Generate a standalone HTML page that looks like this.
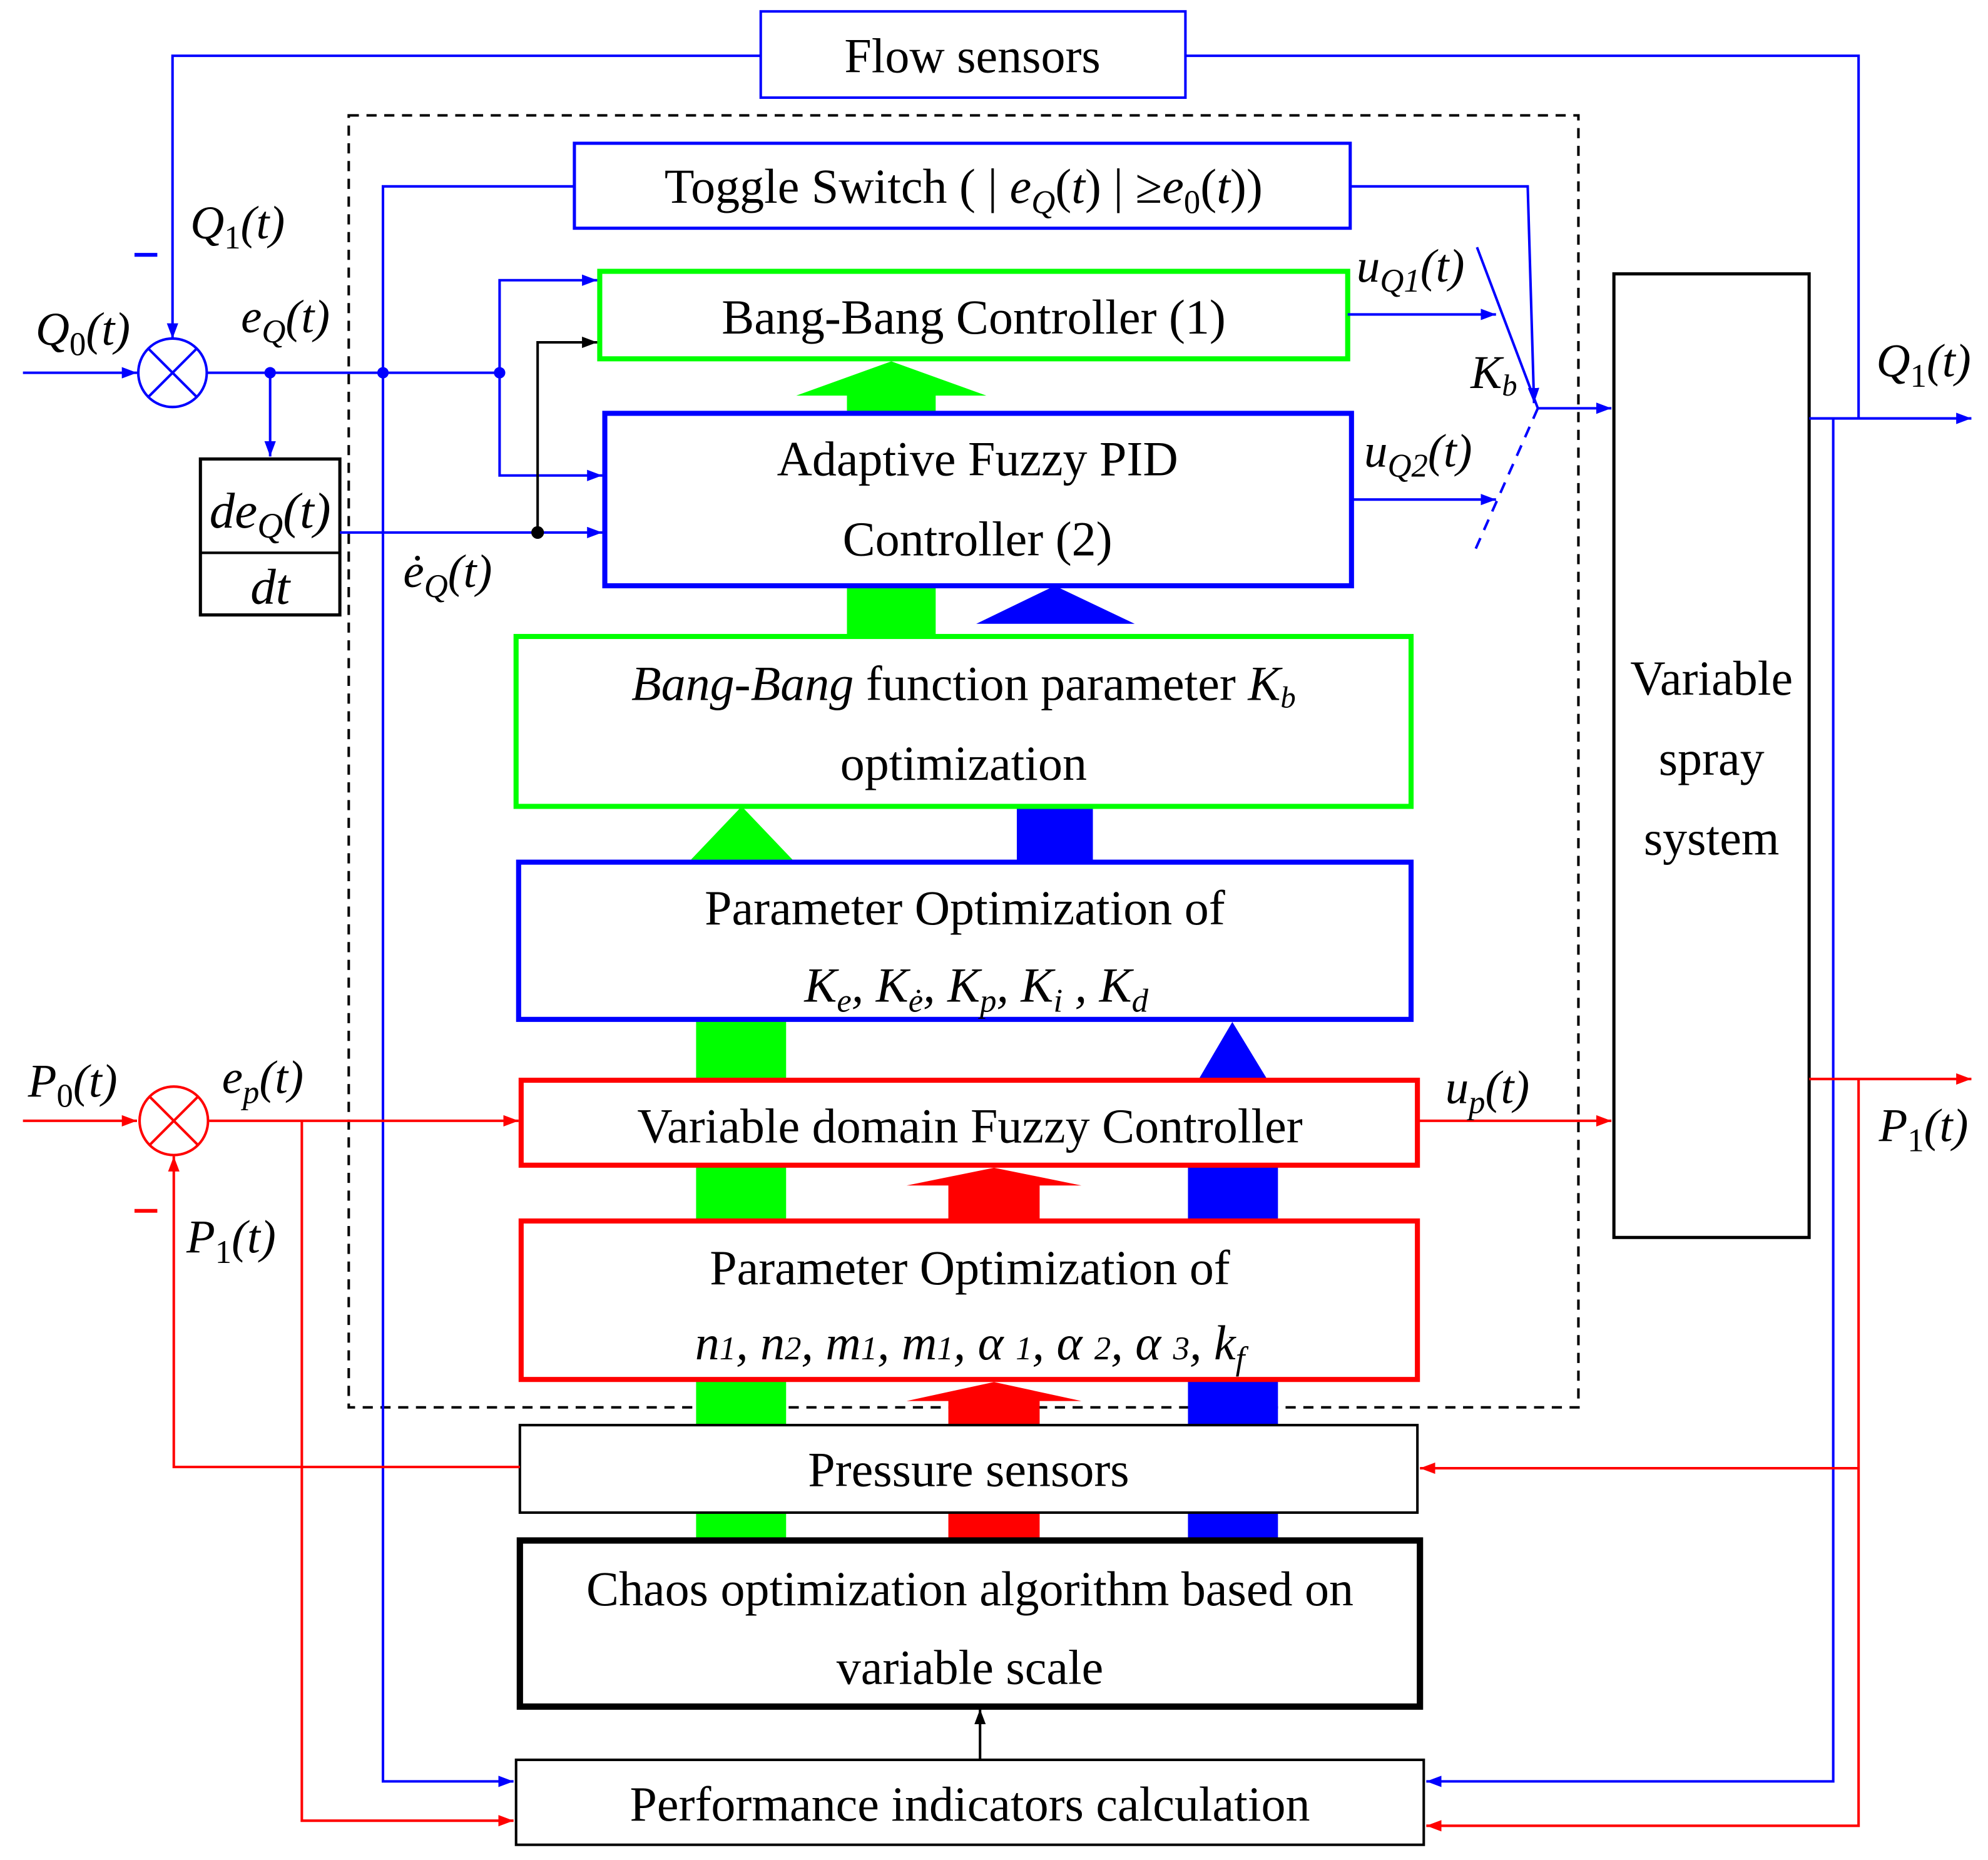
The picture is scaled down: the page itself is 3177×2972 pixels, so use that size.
<!DOCTYPE html>
<html><head><meta charset="utf-8"><style>html,body{margin:0;padding:0;background:#fff}svg{display:block}</style></head>
<body>
<svg width="3177" height="2972" viewBox="0 0 1568 1467" xmlns="http://www.w3.org/2000/svg" font-family="Liberation Serif, serif" font-size="38.5">
<defs>
<marker id="ab" markerWidth="12" markerHeight="9" refX="12" refY="4.5" orient="auto" markerUnits="userSpaceOnUse" viewBox="0 0 12 9"><path d="M0,0L12,4.5L0,9z" fill="#00f"/></marker>
<marker id="ar" markerWidth="12" markerHeight="9" refX="12" refY="4.5" orient="auto" markerUnits="userSpaceOnUse" viewBox="0 0 12 9"><path d="M0,0L12,4.5L0,9z" fill="#f00"/></marker>
<marker id="ak" markerWidth="12" markerHeight="9" refX="12" refY="4.5" orient="auto" markerUnits="userSpaceOnUse" viewBox="0 0 12 9"><path d="M0,0L12,4.5L0,9z" fill="#000"/></marker>
</defs>
<rect x="275" y="91" width="970" height="1019" fill="none" stroke="#000" stroke-width="2" stroke-dasharray="8,6"/>
<g stroke="none">
<rect x="668" y="310" width="70" height="16" fill="#0f0"/><polygon points="628,312 778,312 703,285" fill="#0f0"/>
<rect x="668" y="462" width="70" height="40" fill="#0f0"/>
<polygon points="770,492 895,492 832,462" fill="#00f"/>
<polygon points="545,678 625,678 585,636" fill="#0f0"/>
<rect x="802" y="636" width="60" height="44" fill="#00f"/>
<rect x="549" y="804" width="71" height="48" fill="#0f0"/>
<polygon points="945,852 1000,852 972,806" fill="#00f"/>
<rect x="549" y="919" width="71" height="44" fill="#0f0"/>
<rect x="748" y="933" width="72" height="30" fill="#f00"/><polygon points="715,935 853,935 784,921" fill="#f00"/>
<rect x="937" y="919" width="71" height="44" fill="#00f"/>
<rect x="549" y="1088" width="71" height="36" fill="#0f0"/>
<rect x="748" y="1103" width="72" height="21" fill="#f00"/><polygon points="715,1105 853,1105 784,1090" fill="#f00"/>
<rect x="937" y="1088" width="71" height="36" fill="#00f"/>
<rect x="549" y="1193" width="71" height="22" fill="#0f0"/>
<rect x="748" y="1193" width="72" height="22" fill="#f00"/>
<rect x="937" y="1193" width="71" height="22" fill="#00f"/>
</g>
<rect x="600" y="9" width="335" height="68" fill="#fff" stroke="#00f" stroke-width="2"/>
<rect x="453" y="113" width="612" height="67" fill="#fff" stroke="#00f" stroke-width="2.5"/>
<rect x="473" y="214" width="590" height="69" fill="#fff" stroke="#0f0" stroke-width="4"/>
<rect x="477" y="326" width="589" height="136" fill="#fff" stroke="#00f" stroke-width="4"/>
<rect x="407" y="502" width="706" height="134" fill="#fff" stroke="#0f0" stroke-width="4"/>
<rect x="409" y="680" width="704" height="124" fill="#fff" stroke="#00f" stroke-width="4"/>
<rect x="411" y="852" width="707" height="67" fill="#fff" stroke="#f00" stroke-width="4"/>
<rect x="411" y="963" width="707" height="125" fill="#fff" stroke="#f00" stroke-width="4"/>
<rect x="410" y="1124" width="708" height="69" fill="#fff" stroke="#000" stroke-width="2"/>
<rect x="410" y="1215" width="710" height="131" fill="#fff" stroke="#000" stroke-width="5"/>
<rect x="407" y="1388" width="716" height="67" fill="#fff" stroke="#000" stroke-width="2"/>
<rect x="1273" y="216" width="154" height="760" fill="#fff" stroke="#000" stroke-width="2.5"/>
<rect x="158" y="362" width="110" height="123" fill="#fff" stroke="#000" stroke-width="2.5"/>
<line x1="158" y1="436" x2="268" y2="436" stroke="#000" stroke-width="2"/>
<g fill="none" stroke="#00f" stroke-width="2">
<polyline points="600,44 136,44 136,267" marker-end="url(#ab)"/>
<polyline points="935,44 1466,44 1466,330"/>
<polyline points="453,147 302,147 302,1405 405,1405" marker-end="url(#ab)"/>
<polyline points="1065,147 1205,147 1210,318" marker-end="url(#ab)"/>
<line x1="18" y1="294" x2="108" y2="294" marker-end="url(#ab)"/>
<line x1="163" y1="294" x2="394" y2="294"/>
<line x1="213" y1="294" x2="213" y2="360" marker-end="url(#ab)"/>
<polyline points="394,294 394,221 471,221" marker-end="url(#ab)"/>
<polyline points="394,294 394,375 475,375" marker-end="url(#ab)"/>
<line x1="268" y1="420" x2="475" y2="420" marker-end="url(#ab)"/>
<line x1="1063" y1="248" x2="1180" y2="248" marker-end="url(#ab)"/>
<line x1="1066" y1="394" x2="1180" y2="394" marker-end="url(#ab)"/>
<line x1="1165" y1="195" x2="1213" y2="322"/>
<line x1="1213" y1="322" x2="1163" y2="435" stroke-dasharray="9,7"/>
<line x1="1213" y1="322" x2="1271" y2="322" marker-end="url(#ab)"/>
<line x1="1427" y1="330" x2="1555" y2="330" marker-end="url(#ab)"/>
<polyline points="1446,330 1446,1405 1125,1405" marker-end="url(#ab)"/>
<circle cx="136" cy="294" r="27"/>
<line x1="117" y1="275" x2="155" y2="313"/><line x1="155" y1="275" x2="117" y2="313"/>
</g>
<polyline points="424,420 424,270 471,270" fill="none" stroke="#000" stroke-width="2" marker-end="url(#ak)"/>
<g fill="#00f"><circle cx="213" cy="294" r="4.5"/><circle cx="302" cy="294" r="4.5"/><circle cx="394" cy="294" r="4.5"/></g>
<circle cx="424" cy="420" r="5" fill="#000"/>
<g fill="none" stroke="#f00" stroke-width="2">
<line x1="18" y1="884" x2="108" y2="884" marker-end="url(#ar)"/>
<line x1="165" y1="884" x2="409" y2="884" marker-end="url(#ar)"/>
<polyline points="238,884 238,1436 405,1436" marker-end="url(#ar)"/>
<polyline points="410,1157 137,1157 137,912" marker-end="url(#ar)"/>
<line x1="1118" y1="884" x2="1271" y2="884" marker-end="url(#ar)"/>
<line x1="1427" y1="851" x2="1555" y2="851" marker-end="url(#ar)"/>
<polyline points="1466,851 1466,1440 1125,1440" marker-end="url(#ar)"/>
<line x1="1466" y1="1158" x2="1120" y2="1158" marker-end="url(#ar)"/>
<circle cx="137" cy="884" r="27"/>
<line x1="118" y1="865" x2="156" y2="903"/><line x1="156" y1="865" x2="118" y2="903"/>
</g>
<line x1="773" y1="1388" x2="773" y2="1348" stroke="#000" stroke-width="2" marker-end="url(#ak)"/>
<g text-anchor="middle">
<text x="767" y="57">Flow sensors</text>
<text x="760" y="160">Toggle Switch ( | <tspan font-style="italic">e</tspan><tspan font-size="26" font-style="italic" dy="8">Q</tspan><tspan dy="-8">(</tspan><tspan font-style="italic">t</tspan>) | ≥<tspan font-style="italic">e</tspan><tspan font-size="26" dy="8">0</tspan><tspan dy="-8">(</tspan><tspan font-style="italic">t</tspan>))</text>
<text x="768" y="263">Bang-Bang Controller (1)</text>
<text x="771" y="375">Adaptive Fuzzy PID</text>
<text x="771" y="438">Controller (2)</text>
<text x="760" y="552"><tspan font-style="italic">Bang-Bang</tspan> function parameter <tspan font-style="italic">K</tspan><tspan font-size="24" font-style="italic" dy="6">b</tspan></text>
<text x="760" y="615">optimization</text>
<text x="761" y="729">Parameter Optimization of</text>
<text x="770" y="790" font-style="italic">K<tspan font-size="26" dy="8">e</tspan><tspan dy="-8">,  K</tspan><tspan font-size="26" dy="8">ė</tspan><tspan dy="-8">,  K</tspan><tspan font-size="26" dy="8">p</tspan><tspan dy="-8">,  K</tspan><tspan font-size="26" dy="8">i</tspan><tspan dy="-8"> ,  K</tspan><tspan font-size="26" dy="8">d</tspan></text>
<text x="765" y="901">Variable domain Fuzzy Controller</text>
<text x="765" y="1013">Parameter Optimization of</text>
<text x="765" y="1072" font-style="italic">n<tspan font-size="26">1</tspan>, n<tspan font-size="26">2</tspan>, m<tspan font-size="26">1</tspan>, m<tspan font-size="26">1</tspan>,   α <tspan font-size="26">1</tspan>,   α <tspan font-size="26">2</tspan>,   α <tspan font-size="26">3</tspan>,  k<tspan font-size="26" dy="8">f</tspan></text>
<text x="764" y="1172">Pressure sensors</text>
<text x="765" y="1266">Chaos optimization algorithm based on</text>
<text x="765" y="1328">variable scale</text>
<text x="765" y="1436">Performance indicators calculation</text>
<text x="1350" y="548">Variable</text>
<text x="1350" y="611">spray</text>
<text x="1350" y="674">system</text>
<text x="213" y="416" font-style="italic" font-size="40">de<tspan font-size="28" dy="8">Q</tspan><tspan dy="-8">(t)</tspan></text>
<text x="213" y="476" font-style="italic" font-size="40">dt</text>
</g>
<g font-style="italic" font-size="37">
<text x="150" y="188">Q<tspan font-size="26" font-style="normal" dy="8">1</tspan><tspan dy="-8">(t)</tspan></text>
<text x="28" y="272">Q<tspan font-size="26" font-style="normal" dy="8">0</tspan><tspan dy="-8">(t)</tspan></text>
<text x="190" y="262">e<tspan font-size="26" dy="8">Q</tspan><tspan dy="-8">(t)</tspan></text>
<text x="318" y="463">ė<tspan font-size="26" dy="8">Q</tspan><tspan dy="-8">(t)</tspan></text>
<text x="1070" y="222">u<tspan font-size="26" dy="8">Q1</tspan><tspan dy="-8">(t)</tspan></text>
<text x="1076" y="368">u<tspan font-size="26" dy="8">Q2</tspan><tspan dy="-8">(t)</tspan></text>
<text x="1160" y="306">K<tspan font-size="24" dy="6">b</tspan></text>
<text x="1480" y="297">Q<tspan font-size="26" font-style="normal" dy="8">1</tspan><tspan dy="-8">(t)</tspan></text>
<text x="22" y="865">P<tspan font-size="26" font-style="normal" dy="8">0</tspan><tspan dy="-8">(t)</tspan></text>
<text x="175" y="862">e<tspan font-size="26" dy="8">p</tspan><tspan dy="-8">(t)</tspan></text>
<text x="147" y="988">P<tspan font-size="26" font-style="normal" dy="8">1</tspan><tspan dy="-8">(t)</tspan></text>
<text x="1140" y="870">u<tspan font-size="26" dy="8">p</tspan><tspan dy="-8">(t)</tspan></text>
<text x="1482" y="900">P<tspan font-size="26" font-style="normal" dy="8">1</tspan><tspan dy="-8">(t)</tspan></text>
</g>
<line x1="106" y1="201" x2="124" y2="201" stroke="#00f" stroke-width="3"/>
<line x1="106" y1="955" x2="124" y2="955" stroke="#f00" stroke-width="3"/>
</svg>
</body></html>
